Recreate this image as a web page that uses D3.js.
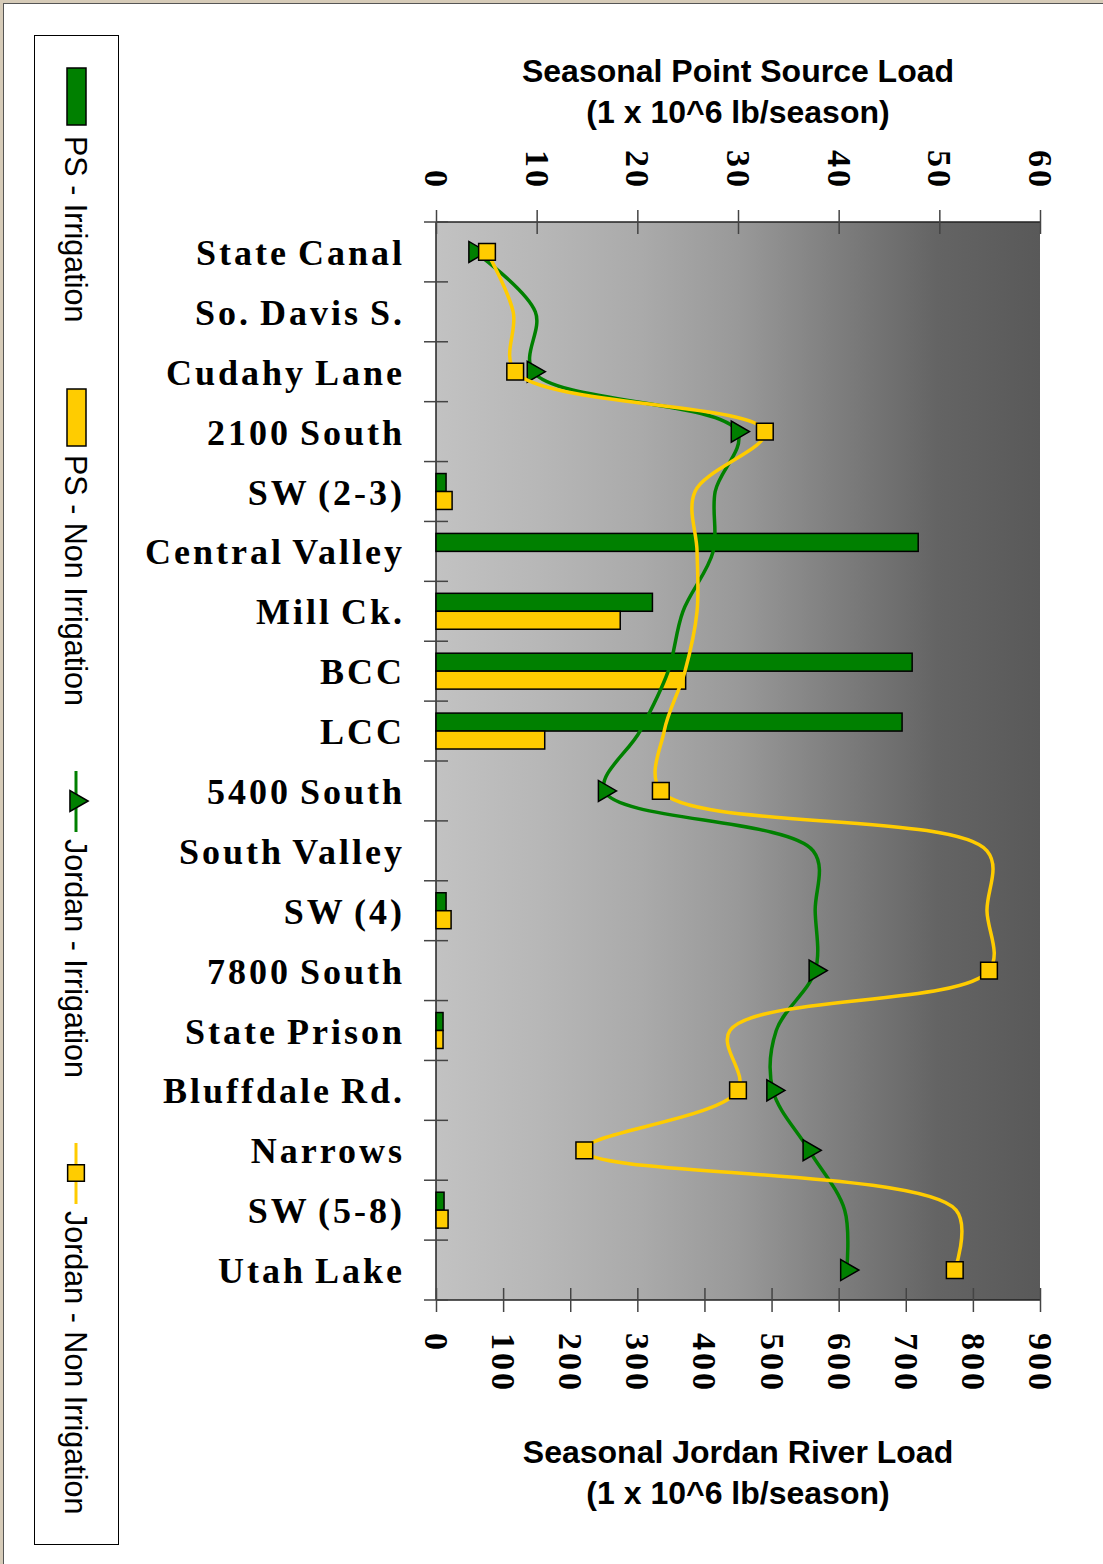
<!DOCTYPE html>
<html>
<head>
<meta charset="utf-8">
<script src="https://cdn.jsdelivr.net/npm/d3@7"></script>
<style>
  body { margin: 0; background: #ffffff; }
  svg { display: block; }
</style>
</head>
<body>
<svg id="chart" width="1103" height="1564"></svg>
<script>
// Categories (river stations and tributaries, top to bottom)
const categories = ["State Canal", "So. Davis S.", "Cudahy Lane", "2100 South", "SW (2-3)",
  "Central Valley", "Mill Ck.", "BCC", "LCC", "5400 South", "South Valley", "SW (4)",
  "7800 South", "State Prison", "Bluffdale Rd.", "Narrows", "SW (5-8)", "Utah Lake"];

// Point source loads, top axis (1 x 10^6 lb/season), null = no bar
const psIrrigation = [null, null, null, null, 1.0, 47.9, 21.5, 47.3, 46.3, null, null, 1.0, null, 0.7, null, null, 0.8, null];
const psNonIrrigation = [null, null, null, null, 1.6, null, 18.3, 24.8, 10.8, null, null, 1.5, null, 0.7, null, null, 1.2, null];

// Jordan River loads, bottom axis (1 x 10^6 lb/season)
const jordanIrrigation = [58, 148, 145, 449, 416, 413, 368, 346, 304, 251, 562, 565, 565, 507, 502, 556, 609, 612];
const jordanNonIrrigation = [76, 115, 118, 490, 386, 389, 389, 371, 340, 335, 821, 821, 824, 438, 450, 221, 775, 773];

// Stations that carry a marker on the river lines
const markerStations = ["State Canal", "Cudahy Lane", "2100 South", "5400 South", "7800 South", "Bluffdale Rd.", "Narrows", "Utah Lake"];

const topTicks = [0, 10, 20, 30, 40, 50, 60];
const bottomTicks = [0, 100, 200, 300, 400, 500, 600, 700, 800, 900];

const GREEN = "#008000";
const YELLOW = "#ffcc00";

const svg = d3.select("#chart");

// page frame
svg.append("rect").attr("x", 0).attr("y", 0).attr("width", 1103).attr("height", 3).attr("fill", "#d6cbb8");
svg.append("rect").attr("x", 0).attr("y", 0).attr("width", 3).attr("height", 1564).attr("fill", "#d6cbb8");
svg.append("line").attr("x1", 3).attr("x2", 1103).attr("y1", 3.5).attr("y2", 3.5).attr("stroke", "#555");
svg.append("line").attr("x1", 3.5).attr("x2", 3.5).attr("y1", 3).attr("y2", 1564).attr("stroke", "#555");

const plot = { left: 436, right: 1040, top: 222, bottom: 1300 };

// Scales
const y = d3.scaleBand().domain(categories).range([plot.top, plot.bottom]).padding(0);
const ySub = d3.scaleBand().domain(["irr", "non"]).range([0, y.bandwidth()]).paddingInner(0).paddingOuter(0.667);
const xTop = d3.scaleLinear().domain([0, 60]).range([plot.left, plot.right]);
const xBot = d3.scaleLinear().domain([0, 900]).range([plot.left, plot.right]);

// Gradient background of the plot area
const defs = svg.append("defs");
const grad = defs.append("linearGradient").attr("id", "bg").attr("x1", "0").attr("x2", "1").attr("y1", "0").attr("y2", "0");
[[0, "#c2c2c2"], [0.17, "#b7b7b7"], [0.34, "#aaaaaa"], [0.5, "#999999"], [0.67, "#7d7d7d"], [0.83, "#646464"], [1, "#595959"]]
  .forEach(s => grad.append("stop").attr("offset", s[0]).attr("stop-color", s[1]));

svg.append("rect")
  .attr("x", plot.left).attr("y", plot.top)
  .attr("width", plot.right - plot.left).attr("height", plot.bottom - plot.top)
  .attr("fill", "url(#bg)");

// Axis lines
const axisColor = "#444";
svg.append("line").attr("x1", plot.left).attr("x2", plot.right).attr("y1", plot.top).attr("y2", plot.top).attr("stroke", "#222").attr("stroke-width", 1.5);
svg.append("line").attr("x1", plot.left).attr("x2", plot.right).attr("y1", plot.bottom).attr("y2", plot.bottom).attr("stroke", "#222").attr("stroke-width", 1.5);
svg.append("line").attr("x1", plot.left).attr("x2", plot.left).attr("y1", plot.top).attr("y2", plot.bottom).attr("stroke", "#222").attr("stroke-width", 1.5);

// Category tick marks on band boundaries
const boundaries = categories.map(c => y(c)).concat([plot.bottom]);
svg.append("g").selectAll("line").data(boundaries).join("line")
  .attr("x1", plot.left - 12).attr("x2", plot.left + 12)
  .attr("y1", d => d).attr("y2", d => d)
  .attr("stroke", axisColor).attr("stroke-width", 1.5);

// Top axis
const topAxis = svg.append("g").attr("transform", `translate(0,${plot.top})`)
  .call(d3.axisTop(xTop).tickValues(topTicks).tickSize(12).tickFormat(""));
topAxis.select(".domain").remove();
topAxis.selectAll(".tick line").attr("y1", 12).attr("y2", -12).attr("stroke", axisColor).attr("stroke-width", 1.5);

// Bottom axis
const botAxis = svg.append("g").attr("transform", `translate(0,${plot.bottom})`)
  .call(d3.axisBottom(xBot).tickValues(bottomTicks).tickSize(12).tickFormat(""));
botAxis.select(".domain").remove();
botAxis.selectAll(".tick line").attr("y1", -12).attr("y2", 12).attr("stroke", axisColor).attr("stroke-width", 1.5);

// Rotated tick labels
const tickFont = "'Liberation Serif', 'Times New Roman', serif";
svg.append("g").selectAll("text").data(topTicks).join("text")
  .attr("transform", d => `translate(${xTop(d) - 11},190) rotate(90)`)
  .attr("text-anchor", "end")
  .style("font-family", tickFont).style("font-weight", "bold").style("font-size", "34px")
  .style("letter-spacing", "3px")
  .text(d => d);

svg.append("g").selectAll("text").data(bottomTicks).join("text")
  .attr("transform", d => `translate(${xBot(d) - 11},1333) rotate(90)`)
  .attr("text-anchor", "start")
  .style("font-family", tickFont).style("font-weight", "bold").style("font-size", "34px")
  .style("letter-spacing", "3px")
  .text(d => d);

// Category labels
svg.append("g").selectAll("text").data(categories).join("text")
  .attr("x", 405)
  .attr("y", d => y(d) + y.bandwidth() / 2 + 13)
  .attr("text-anchor", "end")
  .style("font-family", tickFont).style("font-weight", "bold").style("font-size", "36px")
  .style("letter-spacing", "3px")
  .style("word-spacing", "-3px")
  .text(d => d);

// Bars
const barRows = [];
categories.forEach((c, i) => {
  if (psIrrigation[i] != null) barRows.push({ cat: c, key: "irr", v: psIrrigation[i], fill: GREEN });
  if (psNonIrrigation[i] != null) barRows.push({ cat: c, key: "non", v: psNonIrrigation[i], fill: YELLOW });
});
svg.append("g").selectAll("rect").data(barRows).join("rect")
  .attr("x", plot.left)
  .attr("y", d => y(d.cat) + ySub(d.key))
  .attr("width", d => xTop(d.v) - plot.left)
  .attr("height", ySub.bandwidth())
  .attr("fill", d => d.fill)
  .attr("stroke", "#000").attr("stroke-width", 1.5);

// River lines
const cy = c => y(c) + y.bandwidth() / 2;
const line = d3.line()
  .x(d => xBot(d.v))
  .y(d => cy(d.cat))
  .curve(d3.curveCatmullRom.alpha(0.5));

const irrPts = categories.map((c, i) => ({ cat: c, v: jordanIrrigation[i] }));
const nonPts = categories.map((c, i) => ({ cat: c, v: jordanNonIrrigation[i] }));

svg.append("path").datum(irrPts).attr("d", line)
  .attr("fill", "none").attr("stroke", GREEN).attr("stroke-width", 3.5);

const tri = d3.symbol().type(d3.symbolTriangle).size(190);
svg.append("g").selectAll("path").data(irrPts.filter(d => markerStations.includes(d.cat))).join("path")
  .attr("d", tri)
  .attr("transform", d => `translate(${xBot(d.v)},${cy(d.cat)}) rotate(90)`)
  .attr("fill", GREEN).attr("stroke", "#000").attr("stroke-width", 1.5);

svg.append("path").datum(nonPts).attr("d", line)
  .attr("fill", "none").attr("stroke", YELLOW).attr("stroke-width", 3.5);

const sq = d3.symbol().type(d3.symbolSquare).size(280);
svg.append("g").selectAll("path").data(nonPts.filter(d => markerStations.includes(d.cat))).join("path")
  .attr("d", sq)
  .attr("transform", d => `translate(${xBot(d.v)},${cy(d.cat)})`)
  .attr("fill", YELLOW).attr("stroke", "#000").attr("stroke-width", 1.5);

// Axis titles
const titleFont = "'Liberation Sans', Arial, sans-serif";
const midX = (plot.left + plot.right) / 2;
[["Seasonal Point Source Load", 82], ["(1 x 10^6 lb/season)", 123],
 ["Seasonal Jordan River Load", 1463], ["(1 x 10^6 lb/season)", 1504]].forEach(t => {
  svg.append("text").attr("x", midX).attr("y", t[1]).attr("text-anchor", "middle")
    .style("font-family", titleFont).style("font-weight", "bold").style("font-size", "32px")
    .text(t[0]);
});

// Legend (rotated)
const legend = svg.append("g");
legend.append("rect").attr("x", 34.5).attr("y", 35.5).attr("width", 84).attr("height", 1509)
  .attr("fill", "#fff").attr("stroke", "#000").attr("stroke-width", 1);

const legendItems = [
  { name: "PS - Irrigation", kind: "bar", color: GREEN, y0: 68, ty: 136 },
  { name: "PS - Non Irrigation", kind: "bar", color: YELLOW, y0: 389, ty: 455 },
  { name: "Jordan - Irrigation", kind: "tri", color: GREEN, y0: 771, ty: 839 },
  { name: "Jordan - Non Irrigation", kind: "sq", color: YELLOW, y0: 1143, ty: 1211 }
];
legendItems.forEach(it => {
  if (it.kind === "bar") {
    legend.append("rect").attr("x", 67).attr("y", it.y0).attr("width", 19).attr("height", 57)
      .attr("fill", it.color).attr("stroke", "#000").attr("stroke-width", 1.5);
  } else {
    legend.append("line").attr("x1", 76).attr("x2", 76).attr("y1", it.y0).attr("y2", it.y0 + 61)
      .attr("stroke", it.color).attr("stroke-width", 3);
    legend.append("path")
      .attr("d", it.kind === "tri" ? tri : sq)
      .attr("transform", `translate(76,${it.y0 + 30}) rotate(${it.kind === "tri" ? 90 : 0})`)
      .attr("fill", it.color).attr("stroke", "#000").attr("stroke-width", 1.5);
  }
  legend.append("text")
    .attr("transform", `translate(65,${it.ty}) rotate(90)`)
    .style("font-family", titleFont).style("font-size", "30.5px")
    .text(it.name);
});
</script>
</body>
</html>
